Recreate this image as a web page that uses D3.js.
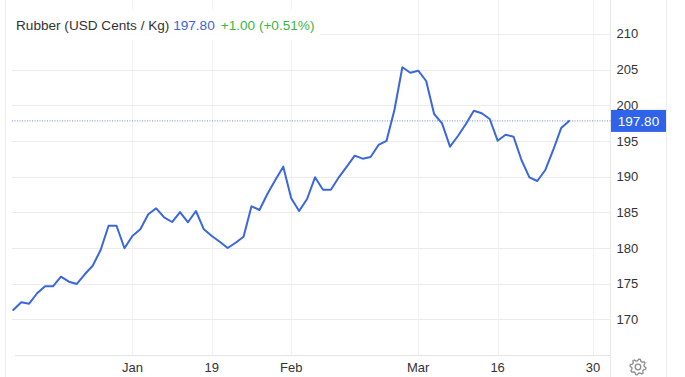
<!DOCTYPE html>
<html>
<head>
<meta charset="utf-8">
<script src="https://cdn.jsdelivr.net/npm/d3@7"></script>
<style>
  html, body { margin: 0; padding: 0; background: #fff; }
  svg { display: block; font-family: "Liberation Sans", Arial, sans-serif; }
</style>
</head>
<body>
<svg id="chart" width="685" height="377"></svg>
<script>
// ---- data ----
const values = [
  171.32, 172.39, 172.20, 173.66, 174.64, 174.64, 175.98, 175.28, 174.96, 176.32,
  177.52, 179.72, 183.12, 183.12, 179.96, 181.68, 182.62, 184.72, 185.56, 184.30,
  183.64, 185.04, 183.60, 185.18, 182.62, 181.68, 180.88, 180.00, 180.74, 181.58,
  185.84, 185.32, 187.56, 189.52, 191.39, 186.96, 185.18, 186.86, 189.90, 188.17,
  188.17, 189.90, 191.39, 192.93, 192.51, 192.75, 194.43, 194.99, 199.33, 205.31,
  204.55, 204.83, 203.39, 198.77, 197.46, 194.19, 195.69, 197.37, 199.23, 198.87,
  198.07, 195.03, 195.87, 195.59, 192.32, 189.90, 189.38, 190.92, 193.73, 196.80,
  197.80
];
const xTickLabels = ["Jan", "19", "Feb", "Mar", "16", "30"];
const xTickIndex = [15, 25, 35, 51, 61, 73];
const yTicks = [170, 175, 180, 185, 190, 195, 200, 205, 210];
const lastValue = 197.80;
const titleName = "Rubber (USD Cents / Kg)";
const titlePrice = "197.80";
const titleChange = "+1.00 (+0.51%)";

// ---- layout ----
const svg = d3.select("#chart");
const plotLeft = 12, plotRight = 611, plotBottom = 355.7;
const x = d3.scaleLinear().domain([0, values.length - 1]).range([13.3, 569.1]);
const y = d3.scaleLinear().domain([185, 210]).range([212.3, 33.8]);

// borders
svg.append("line").attr("x1", 5.5).attr("x2", 5.5).attr("y1", 0).attr("y2", 377)
  .attr("stroke", "#ececec");
svg.append("line").attr("x1", plotRight - 0.5).attr("x2", plotRight - 0.5).attr("y1", 0).attr("y2", 377)
  .attr("stroke", "#e8e8e8");
svg.append("line").attr("x1", 666.5).attr("x2", 666.5).attr("y1", 0).attr("y2", 377)
  .attr("stroke", "#ececec");

// vertical gridlines
svg.append("g").selectAll("line").data(xTickIndex).join("line")
  .attr("x1", d => Math.round(x(d)) + 0.5).attr("x2", d => Math.round(x(d)) + 0.5)
  .attr("y1", 0).attr("y2", plotBottom)
  .attr("stroke", "#f1f1f1");

// horizontal gridlines
svg.append("g").selectAll("line").data(yTicks).join("line")
  .attr("x1", plotLeft).attr("x2", plotRight)
  .attr("y1", d => Math.round(y(d)) + 0.5).attr("y2", d => Math.round(y(d)) + 0.5)
  .attr("stroke", "#ebebeb");

// bottom axis line
svg.append("line").attr("x1", 15).attr("x2", plotRight).attr("y1", 355.5).attr("y2", 355.5)
  .attr("stroke", "#e3e3e3");

// right axis labels
svg.append("g").selectAll("text").data(yTicks).join("text")
  .attr("x", 616.5).attr("y", d => y(d)).attr("dy", "0.36em")
  .attr("font-size", 13).attr("fill", "#333")
  .text(d => d);

// bottom axis labels
svg.append("g").selectAll("text").data(xTickIndex).join("text")
  .attr("x", d => x(d)).attr("y", 372)
  .attr("text-anchor", "middle").attr("font-size", 13).attr("fill", "#333")
  .text((d, i) => xTickLabels[i]);

// last value dotted line
svg.append("line").attr("x1", plotLeft).attr("x2", plotRight)
  .attr("y1", y(lastValue)).attr("y2", y(lastValue))
  .attr("stroke", "#6a84ee").attr("stroke-width", 1).attr("stroke-dasharray", "1,1.5");

// series line
const line = d3.line().x((d, i) => x(i)).y(d => y(d));
svg.append("path").datum(values)
  .attr("d", line).attr("fill", "none")
  .attr("stroke", "#3a67dc").attr("stroke-width", 2)
  .attr("stroke-linejoin", "round").attr("stroke-linecap", "round");

// last value box
svg.append("rect").attr("x", plotRight).attr("y", y(lastValue) - 11).attr("width", 55).attr("height", 22)
  .attr("fill", "#2e63ea");
svg.append("text").attr("x", 638.5).attr("y", y(lastValue)).attr("dy", "0.36em")
  .attr("text-anchor", "middle").attr("font-size", 13.5).attr("fill", "#fff")
  .text(lastValue.toFixed(2));

// title
svg.append("rect").attr("x", 6).attr("y", 10).attr("width", 314).attr("height", 30)
  .attr("fill", "#fff").attr("opacity", 0.85);
const title = svg.append("text").attr("x", 16).attr("y", 29.5).attr("font-size", 13.6);
title.append("tspan").attr("fill", "#333").text(titleName + " ");
title.append("tspan").attr("fill", "#3d63d6").text(titlePrice);
title.append("tspan").attr("fill", "#3cb53f").attr("dx", 6).text(titleChange);

// settings gear (outline)
const gearPts = [];
const teeth = 8, rOut = 8, rIn = 6.2;
for (let k = 0; k < teeth * 4; k++) {
  const a = (k / (teeth * 4)) * 2 * Math.PI - Math.PI / 2 + Math.PI / (teeth * 4);
  const r = (k % 4 === 0 || k % 4 === 1) ? rOut : rIn;
  gearPts.push([638 + r * Math.cos(a), 367 + r * Math.sin(a)]);
}
svg.append("path").attr("d", d3.line().curve(d3.curveLinearClosed)(gearPts))
  .attr("fill", "none").attr("stroke", "#8c8c8c").attr("stroke-width", 1.3)
  .attr("stroke-linejoin", "round");
svg.append("circle").attr("cx", 638).attr("cy", 367).attr("r", 2.8)
  .attr("fill", "none").attr("stroke", "#8c8c8c").attr("stroke-width", 1.3);
</script>
</body>
</html>
